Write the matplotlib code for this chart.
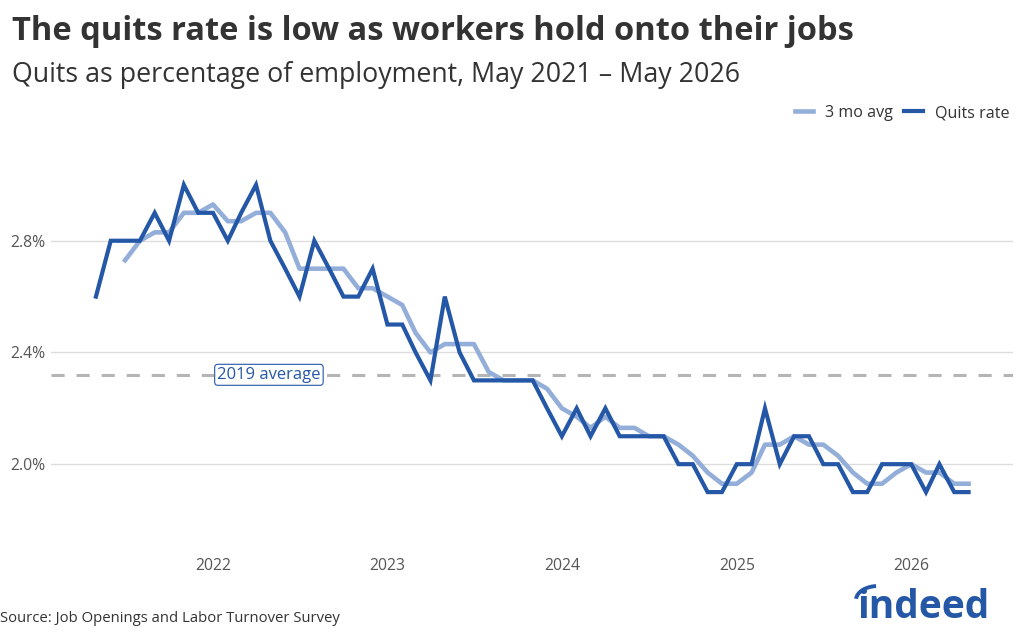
import datetime as dt
import matplotlib
matplotlib.use("Agg")
import matplotlib.pyplot as plt
import matplotlib.dates as mdates
from matplotlib.patches import Arc

plt.rcParams['font.family'] = ['Open Sans', 'DejaVu Sans']

# monthly data, May 2021 - May 2026
start_year, start_month = 2021, 5
quits_rate = [2.6, 2.8, 2.8, 2.8, 2.9, 2.8, 3.0, 2.9, 2.9, 2.8,
              2.9, 3.0, 2.8, 2.7, 2.6, 2.8, 2.7, 2.6, 2.6, 2.7,
              2.5, 2.5, 2.4, 2.3, 2.6, 2.4, 2.3, 2.3, 2.3, 2.3,
              2.3, 2.2, 2.1, 2.2, 2.1, 2.2, 2.1, 2.1, 2.1, 2.1,
              2.0, 2.0, 1.9, 1.9, 2.0, 2.0, 2.2, 2.0, 2.1, 2.1,
              2.0, 2.0, 1.9, 1.9, 2.0, 2.0, 2.0, 1.9, 2.0, 1.9,
              1.9]
# 3 month average starts in July 2021
avg_3mo = [None, None,
           2.73, 2.80, 2.83, 2.83, 2.90, 2.90, 2.93, 2.87,
           2.87, 2.90, 2.90, 2.83, 2.70, 2.70, 2.70, 2.70, 2.63, 2.63,
           2.60, 2.57, 2.47, 2.40, 2.43, 2.43, 2.43, 2.33, 2.30, 2.30,
           2.30, 2.27, 2.20, 2.17, 2.13, 2.17, 2.13, 2.13, 2.10, 2.10,
           2.07, 2.03, 1.97, 1.93, 1.93, 1.97, 2.07, 2.07, 2.10, 2.07,
           2.07, 2.03, 1.97, 1.93, 1.93, 1.97, 2.00, 1.97, 1.97, 1.93,
           1.93]
avg_2019 = 2.32
year_ticks = [2022, 2023, 2024, 2025, 2026]
y_ticks = [2.0, 2.4, 2.8]

months = []
for i in range(len(quits_rate)):
    m = start_month - 1 + i
    months.append(dt.datetime(start_year + m // 12, m % 12 + 1, 1))

avg_x = [d for d, v in zip(months, avg_3mo) if v is not None]
avg_y = [v for v in avg_3mo if v is not None]

dark = '#2557a7'
light = '#93aed9'

fig = plt.figure(figsize=(10.24, 6.4), dpi=100)
ax = fig.add_axes([51 / 1024, 1 - 534 / 640, 962 / 1024, 391 / 640])

ax.axhline(avg_2019, color='#b5b5b5', lw=2.2, dashes=(4.3, 3.9), zorder=1)
ax.plot(avg_x, avg_y, color=light, lw=3.3, label='3 mo avg',
        solid_joinstyle='round', zorder=2)
ax.plot(months, quits_rate, color=dark, lw=3.0, label='Quits rate',
        solid_joinstyle='miter', zorder=3)

ax.text(dt.datetime(2022, 4, 28), avg_2019, '2019 average', color=dark,
        fontsize=12, ha='center', va='center', zorder=4,
        bbox=dict(boxstyle='round,pad=0.15,rounding_size=0.2', fc='white',
                  ec=dark, lw=0.8))

ax.set_xlim(dt.datetime(2021, 1, 27), dt.datetime(2026, 8, 2))
ax.set_ylim(1.75, 3.15)
ax.set_xticks([dt.datetime(y, 1, 1) for y in year_ticks])
ax.xaxis.set_major_formatter(mdates.DateFormatter('%Y'))
ax.set_yticks(y_ticks)
ax.set_yticklabels(['%.1f%%' % v for v in y_ticks])
ax.tick_params(axis='both', length=0, labelsize=11.3, labelcolor='#555555')
ax.tick_params(axis='x', pad=17)
ax.tick_params(axis='y', pad=4)
ax.yaxis.grid(True, color='#dddddd', lw=1)
ax.set_axisbelow(True)
for s in ax.spines.values():
    s.set_visible(False)

fig.legend(loc='center right', bbox_to_anchor=(1016 / 1024, 1 - 113 / 640),
           ncol=2, frameon=False, fontsize=11.6, handlelength=1.15,
           handletextpad=0.75, columnspacing=0.7, labelcolor='#333333',
           borderaxespad=0)

fig.text(12 / 1024, 1 - 31 / 640,
         'The quits rate is low as workers hold onto their jobs',
         fontsize=23.5, fontweight='bold', color='#333333', va='center')
fig.text(12 / 1024, 1 - 75 / 640,
         'Quits as percentage of employment, May 2021 \u2013 May 2026',
         fontsize=19.3, color='#333333', va='center')
fig.text(0, 1 - 618 / 640, 'Source: Job Openings and Labor Turnover Survey',
         fontsize=10.7, color='#333333', va='center')

# indeed logo
fig.text(989 / 1024, 1 - 607 / 640, 'indeed', fontsize=28, fontweight='bold',
         color='#2557a7', ha='right', va='center')
fig.patches.append(Arc((878 / 1024, 1 - 600 / 640), 44 / 1024, 28 / 640,
                       theta1=95, theta2=175, color='#2557a7', lw=2.8,
                       transform=fig.transFigure, figure=fig))

fig.savefig('out.png', dpi=100, facecolor='white')
